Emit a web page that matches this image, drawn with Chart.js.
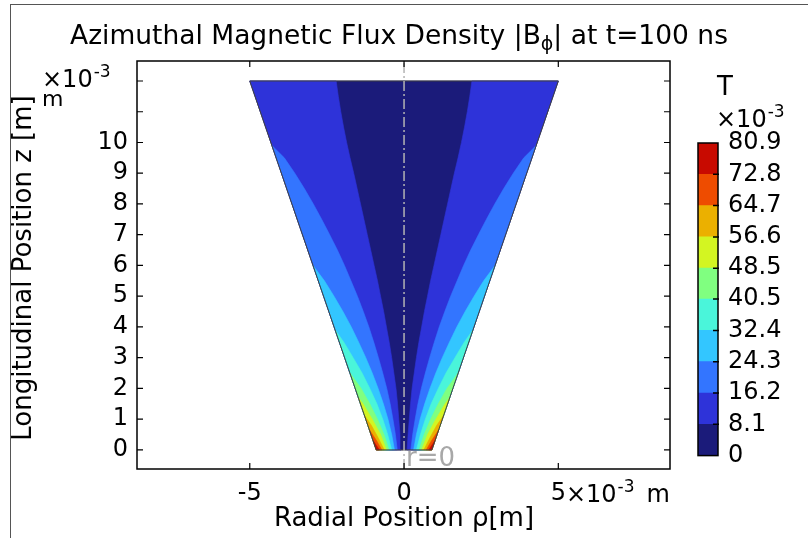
<!DOCTYPE html>
<html>
<head>
<meta charset="utf-8">
<script src="https://cdn.jsdelivr.net/npm/chart.js@4.4.1/dist/chart.umd.min.js"></script>
<style>
  html, body { margin: 0; padding: 0; background: #fff; }
  #lienzo { position: relative; width: 808px; height: 538px; overflow: hidden; }
  #marcoExterno { position: absolute; left: 10px; top: 4px; width: 800px; height: 540px;
                  border-left: 1px solid #555; border-top: 1px solid #555; }
  #principal { position: absolute; left: 0; top: 0; }
  #barra { position: absolute; left: 690px; top: 60px; }
</style>
</head>
<body>
<div id="lienzo">
  <div id="marcoExterno"></div>
  <canvas id="principal" width="808" height="538"></canvas>
  <canvas id="barra" width="118" height="420"></canvas>
</div>
<script>
// Niveles de la barra de color (x10^-3 T) y colores de cada banda
const niveles = [0, 8.1, 16.2, 24.3, 32.4, 40.5, 48.5, 56.6, 64.7, 72.8, 80.9];
const coloresBanda = ['#1b1b7a', '#2e33d9', '#3375ff', '#33c6ff', '#4af5da',
                      '#80ff80', '#d3f522', '#ebb000', '#ee4c00', '#c80a00'];

// Geometría del dominio (x10^-3 m)
const radioBase = 0.9;
const radioTope = 5;
const alturaTope = 12;

// Rangos de ejes y marcas
const rangoX = { min: -8.655, max: 8.62 };
const rangoZ = { min: -0.62, max: 12.65 };
const ticksX = [-5, 0, 5];
const ticksZ = [0, 1, 2, 3, 4, 5, 6, 7, 8, 9, 10, 11, 12];
const etiquetasZ = [0, 1, 2, 3, 4, 5, 6, 7, 8, 9, 10];

// Curvas de nivel (lado derecho, simétricas)
const z81 = [0, 0.5, 1, 1.5, 2, 2.5, 3, 3.5, 4, 4.5, 5, 5.5, 6, 6.5, 7, 7.5, 8, 8.5, 9, 9.5, 10, 10.5, 11, 11.5, 12];
const rho81 = [0.1, 0.13, 0.17, 0.21, 0.26, 0.33, 0.4, 0.48, 0.57, 0.66, 0.76, 0.86, 0.97, 1.08,
               1.19, 1.3, 1.41, 1.52, 1.63, 1.75, 1.86, 1.96, 2.05, 2.13, 2.2];
const z162 = [0, 0.5, 1, 1.5, 2, 2.5, 3, 3.5, 4, 4.5, 5, 5.5, 6, 6.5, 7, 7.5, 8, 8.5, 9, 9.5, 9.9];
const rho162 = [0.22, 0.28, 0.36, 0.45, 0.56, 0.69, 0.83, 0.98, 1.14, 1.32, 1.51, 1.72, 1.93,
                2.16, 2.41, 2.67, 2.94, 3.23, 3.54, 3.88, 4.28];
const z243 = [0, 0.5, 1, 1.5, 2, 2.5, 3, 3.5, 4, 4.5, 5, 5.5, 6];
const rho243 = [0.31, 0.4, 0.52, 0.67, 0.84, 1.03, 1.24, 1.47, 1.71, 1.98, 2.27, 2.58, 2.95];
const z324 = [0, 0.5, 1, 1.5, 2, 2.5, 3, 3.5, 3.9];
const rho324 = [0.4, 0.53, 0.69, 0.88, 1.11, 1.36, 1.65, 1.95, 2.23];
const z405 = [0, 0.5, 1, 1.5, 2, 2.5];
const rho405 = [0.49, 0.65, 0.86, 1.11, 1.39, 1.75];
const z485 = [0, 0.5, 1, 1.5, 1.7];
const rho485 = [0.57, 0.76, 1.03, 1.33, 1.48];
const z566 = [0, 0.4, 0.8, 1.1];
const rho566 = [0.64, 0.84, 1.06, 1.27];
const z647 = [0, 0.3, 0.65];
const rho647 = [0.72, 0.89, 1.12];
const z728 = [0, 0.15, 0.3];
const rho728 = [0.8, 0.9, 1.0];

const contornos = [
  { z: z81, rho: rho81 }, { z: z162, rho: rho162 }, { z: z243, rho: rho243 },
  { z: z324, rho: rho324 }, { z: z405, rho: rho405 }, { z: z485, rho: rho485 },
  { z: z566, rho: rho566 }, { z: z647, rho: rho647 }, { z: z728, rho: rho728 }
];

const fuente = '"DejaVu Sans", sans-serif';

function trapecio() {
  return [
    { x: -radioBase, y: 0 }, { x: radioBase, y: 0 },
    { x: radioTope, y: alturaTope }, { x: -radioTope, y: alturaTope },
    { x: -radioBase, y: 0 }
  ];
}

// Región donde |B| supera el nivel: curva, borde del dominio y base
function poligono(zs, rhos, signo) {
  const pts = zs.map((z, i) => ({ x: signo * rhos[i], y: z }));
  if (zs[zs.length - 1] >= alturaTope) pts.push({ x: signo * radioTope, y: alturaTope });
  pts.push({ x: signo * radioBase, y: 0 });
  pts.push(pts[0]);
  return pts;
}

// Texto con sub/superíndices
function textoCompuesto(ctx, partes, x, y, alinear) {
  let ancho = 0;
  partes.forEach(p => {
    ctx.font = p.size + 'px ' + fuente;
    p.w = ctx.measureText(p.t).width + (p.dx || 0);
    ancho += p.w;
  });
  let cx = alinear === 'center' ? x - ancho / 2 : x;
  ctx.textAlign = 'left';
  ctx.textBaseline = 'alphabetic';
  partes.forEach(p => {
    ctx.font = p.size + 'px ' + fuente;
    ctx.fillText(p.t, cx + (p.dx || 0), y + (p.dy || 0));
    cx += p.w;
  });
}

const datasets = [];
datasets.push({
  data: trapecio(), backgroundColor: coloresBanda[0], borderColor: coloresBanda[0],
  borderWidth: 0.6, fill: 'shape', order: 100
});
contornos.forEach((c, i) => {
  [-1, 1].forEach(signo => {
    datasets.push({
      data: poligono(c.z, c.rho, signo),
      backgroundColor: coloresBanda[i + 1], borderColor: coloresBanda[i + 1],
      borderWidth: 0.6, fill: 'shape', order: 90 - i
    });
  });
});
datasets.push({ data: trapecio(), borderColor: '#404040', borderWidth: 1, fill: false, order: 2 });
datasets.push({
  data: [{ x: 0, y: rangoZ.min }, { x: 0, y: rangoZ.max }],
  borderColor: '#b4b4b4', borderWidth: 1.5, borderDash: [10, 3, 2, 3], fill: false, order: 1
});
datasets.forEach(d => { d.showLine = true; d.pointRadius = 0; d.tension = 0; });

const decoracion = {
  id: 'decoracion',
  afterDraw(chart) {
    const ctx = chart.ctx;
    const a = chart.chartArea;
    const sx = chart.scales.x, sy = chart.scales.y;
    ctx.save();
    // marco del gráfico
    ctx.strokeStyle = '#000';
    ctx.lineWidth = 1.5;
    ctx.strokeRect(a.left, a.top, a.right - a.left, a.bottom - a.top);
    // marcas hacia adentro
    ctx.lineWidth = 1.2;
    ctx.beginPath();
    ticksX.forEach(v => {
      const px = sx.getPixelForValue(v);
      ctx.moveTo(px, a.bottom); ctx.lineTo(px, a.bottom - 6);
      ctx.moveTo(px, a.top); ctx.lineTo(px, a.top + 6);
    });
    ticksZ.forEach(v => {
      const py = sy.getPixelForValue(v);
      ctx.moveTo(a.left, py); ctx.lineTo(a.left + 6, py);
      ctx.moveTo(a.right, py); ctx.lineTo(a.right - 6, py);
    });
    ctx.stroke();

    ctx.fillStyle = '#000';
    // título
    textoCompuesto(ctx, [
      { t: 'Azimuthal Magnetic Flux Density |B', size: 26.5 },
      { t: 'ϕ', size: 19, dy: 6 },
      { t: '| at t=100 ns', size: 26.5 }
    ], 399, 44, 'center');
    // título eje x
    textoCompuesto(ctx, [{ t: 'Radial Position ρ[m]', size: 26 }], 404, 526, 'center');
    // sufijo del eje x
    ctx.font = '24px ' + fuente;
    const x5 = sx.getPixelForValue(5) + ctx.measureText('5').width / 2;
    textoCompuesto(ctx, [
      { t: '×10', size: 24 }, { t: '-3', size: 17, dy: -10, dx: 1 }, { t: 'm', size: 24, dx: 12 }
    ], x5, 502);
    // exponente eje z
    textoCompuesto(ctx, [{ t: '×10', size: 24 }, { t: '-3', size: 17, dy: -10, dx: 1 }], 42, 87);
    textoCompuesto(ctx, [{ t: 'm', size: 22 }], 42, 106);
    // título eje z
    ctx.save();
    ctx.translate(31, 268);
    ctx.rotate(-Math.PI / 2);
    textoCompuesto(ctx, [{ t: 'Longitudinal Position z [m]', size: 26 }], 0, 0, 'center');
    ctx.restore();
    // etiqueta r=0
    ctx.fillStyle = '#a8a8a8';
    textoCompuesto(ctx, [{ t: 'r=0', size: 26 }], sx.getPixelForValue(0) + 2, 466);
    // unidades de la barra de color
    ctx.fillStyle = '#000';
    textoCompuesto(ctx, [{ t: 'T', size: 26 }], 717, 95);
    textoCompuesto(ctx, [{ t: '×10', size: 24 }, { t: '-3', size: 17, dy: -10, dx: 1 }], 716, 127);
    ctx.restore();
  }
};

new Chart(document.getElementById('principal'), {
  type: 'scatter',
  data: { datasets: datasets },
  options: {
    responsive: false,
    animation: false,
    layout: { padding: { top: 61, right: 138, left: 0, bottom: 0 }, autoPadding: false },
    plugins: { legend: { display: false }, tooltip: { enabled: false } },
    scales: {
      x: {
        type: 'linear', position: 'bottom', min: rangoX.min, max: rangoX.max,
        afterBuildTicks: s => { s.ticks = ticksX.map(v => ({ value: v })); },
        afterFit: s => { s.height = 69; },
        grid: { display: false, drawTicks: false },
        border: { display: false },
        ticks: { font: { family: fuente, size: 24 }, color: '#000', padding: 10,
                 maxRotation: 0, autoSkip: false, callback: v => String(v) }
      },
      y: {
        type: 'linear', position: 'left', min: rangoZ.min, max: rangoZ.max,
        afterBuildTicks: s => { s.ticks = etiquetasZ.map(v => ({ value: v })); },
        afterFit: s => { s.width = 137; },
        grid: { display: false, drawTicks: false },
        border: { display: false },
        ticks: { font: { family: fuente, size: 24 }, color: '#000', padding: 9,
                 autoSkip: false, callback: v => String(v) }
      }
    }
  },
  plugins: [decoracion]
});

// Barra de color
const marcoBarra = {
  id: 'marcoBarra',
  afterDraw(chart) {
    const ctx = chart.ctx;
    const a = chart.chartArea;
    const sy = chart.scales.y;
    ctx.save();
    ctx.strokeStyle = '#000';
    ctx.lineWidth = 1.5;
    ctx.strokeRect(a.left, a.top, a.right - a.left, a.bottom - a.top);
    ctx.beginPath();
    niveles.slice(1, -1).forEach(v => {
      const py = sy.getPixelForValue(v);
      ctx.moveTo(a.right - 5, py); ctx.lineTo(a.right + 1, py);
    });
    ctx.stroke();
    ctx.restore();
  }
};

new Chart(document.getElementById('barra'), {
  type: 'bar',
  data: {
    labels: [''],
    datasets: coloresBanda.map((c, i) => ({
      data: [niveles[i + 1] - niveles[i]],
      backgroundColor: c, borderWidth: 0,
      barPercentage: 1, categoryPercentage: 1
    }))
  },
  options: {
    responsive: false,
    animation: false,
    layout: { padding: { left: 8, top: 83, bottom: 22, right: 0 }, autoPadding: false },
    plugins: { legend: { display: false }, tooltip: { enabled: false } },
    scales: {
      x: { stacked: true, display: false },
      y: {
        stacked: true, position: 'right', min: 0, max: niveles[niveles.length - 1],
        afterBuildTicks: s => { s.ticks = niveles.map(v => ({ value: v })); },
        afterFit: s => { s.width = 90; },
        grid: { display: false, drawTicks: false },
        border: { display: false },
        ticks: { font: { family: fuente, size: 24 }, color: '#000', padding: 10,
                 autoSkip: false, callback: v => String(v) }
      }
    }
  },
  plugins: [marcoBarra]
});
</script>
</body>
</html>
